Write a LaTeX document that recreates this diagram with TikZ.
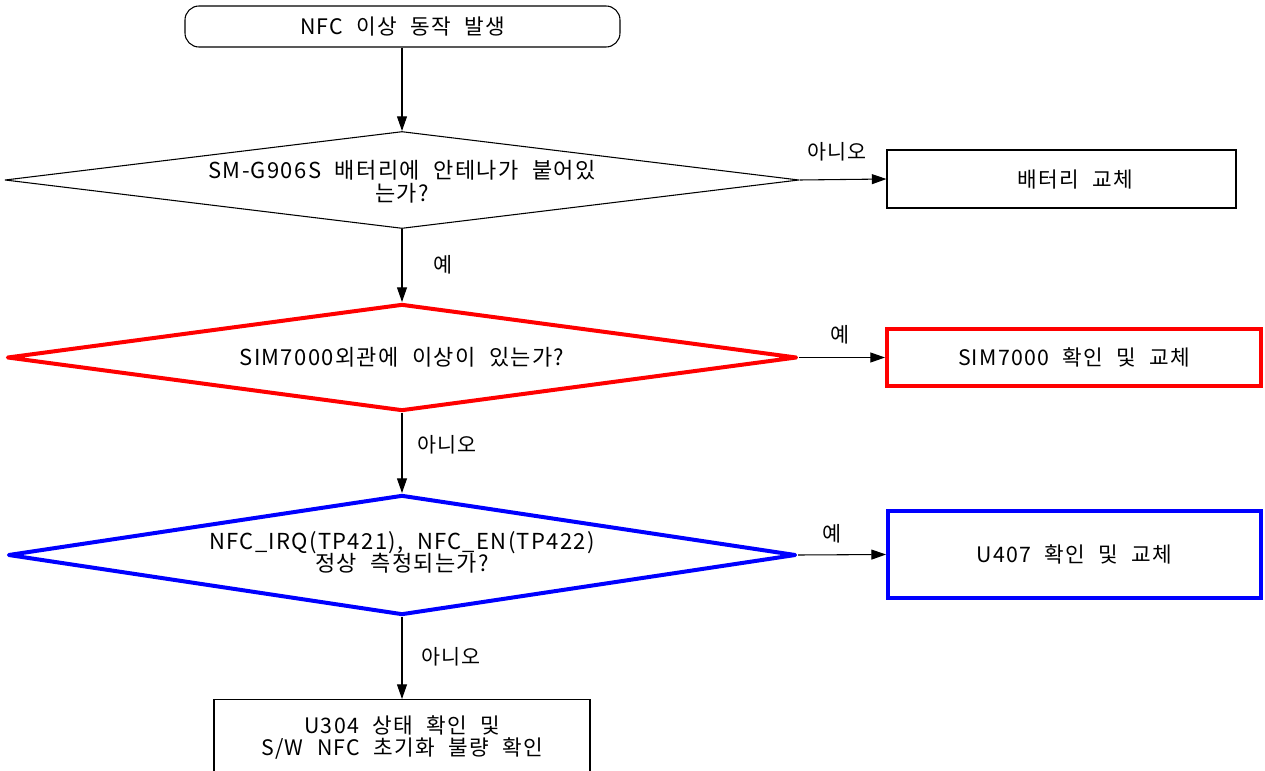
\documentclass[tikz,border=0pt]{standalone}
\usepackage{fontspec}
\usetikzlibrary{shapes.geometric,arrows.meta}
\newfontfamily\kfont[LetterSpace=6,WordSpace=2.2]{Noto Sans CJK KR}
\definecolor{ered}{RGB}{255,0,0}
\definecolor{eblue}{RGB}{0,0,255}
\begin{document}
\begin{tikzpicture}[x=0.75pt,y=-0.75pt,
  conn/.style={draw=black,line width=0.8pt,-{Triangle[length=11pt,width=7.5pt]}},
  lbl/.style={font=\kfont\fontsize{15.5}{17}\selectfont,inner sep=0pt},
  boxtext/.style={font=\kfont\fontsize{16}{16}\selectfont,align=center},
  dtext/.style={font=\kfont\fontsize{16.5}{17.2}\selectfont,align=center,inner sep=0pt},
  dia/.style={diamond,draw,inner sep=0pt,line width=0.8pt,line join=round},
  pbox/.style={rectangle,draw,inner sep=0pt,line width=0.8pt,boxtext}]
\useasboundingbox (0,0) rectangle (1265,771);
\clip (0,0) rectangle (1265,771);
% start
\node[pbox,rounded corners=14*0.75pt,minimum width=435*0.75pt,minimum height=41*0.75pt] (start) at (402.5,26.5) {NFC 이상 동작 발생};
% diamonds
\node[dia,minimum width=794*0.75pt,minimum height=97*0.75pt] (d1) at (402,180) {};
\node[dtext] (t1) at ([yshift=-1.5pt]d1.center) {SM-G906S 배터리에 안테나가 붙어있\\는가?};
\node[dia,draw=ered,line width=3pt,minimum width=790*0.75pt,minimum height=107*0.75pt] (d2) at (402,357.5) {};
\node[dtext] (t2) at (d2.center) {SIM7000외관에 이상이 있는가?};
\node[dia,draw=eblue,line width=3pt,minimum width=788*0.75pt,minimum height=120*0.75pt] (d3) at (402,555) {};
\node[dtext] (t3) at ([yshift=2pt]d3.center) {NFC\_IRQ(TP421), NFC\_EN(TP422)\\정상 측정되는가?};
% boxes
\node[pbox,minimum width=349*0.75pt,minimum height=58*0.75pt] (b1) at (1061.5,179) {};
\node[boxtext,inner sep=0pt] (tb1) at (1075,179.5) {배터리 교체};
\node[pbox,draw=ered,line width=3pt,minimum width=374*0.75pt,minimum height=57*0.75pt] (b2) at (1074,357.5) {SIM7000 확인 및 교체};
\node[pbox,draw=eblue,line width=3pt,minimum width=373*0.75pt,minimum height=87*0.75pt] (b3) at (1074.5,554.5) {U407 확인 및 교체};
\node[pbox,minimum width=376*0.75pt,minimum height=100*0.75pt,anchor=north] (b4) at (402,699) {};
\node[boxtext,inner sep=0pt] (t4) at (402,737.5) {U304 상태 확인 및\\S/W NFC 초기화 불량 확인};
% connectors
\draw[conn] (d1.north |- start.south) -- (d1.north);
\draw[conn] (d1.east) -- (b1.west);
\draw[conn] (d1.south) -- (d2.north);
\draw[conn] (d2.east) -- (b2.west);
\draw[conn] (d2.south) -- (d3.north);
\draw[conn] (d3.east) -- (b3.west);
\draw[conn] (d3.south) -- (b4.north);
% labels
\node[lbl] (l1) at (837,152) {아니오};
\node[lbl] (l2) at (443,265) {예};
\node[lbl] (l3) at (840,335) {예};
\node[lbl] (l4) at (447,445) {아니오};
\node[lbl] (l5) at (832,534) {예};
\node[lbl] (l6) at (451,657) {아니오};
\end{tikzpicture}
\end{document}
